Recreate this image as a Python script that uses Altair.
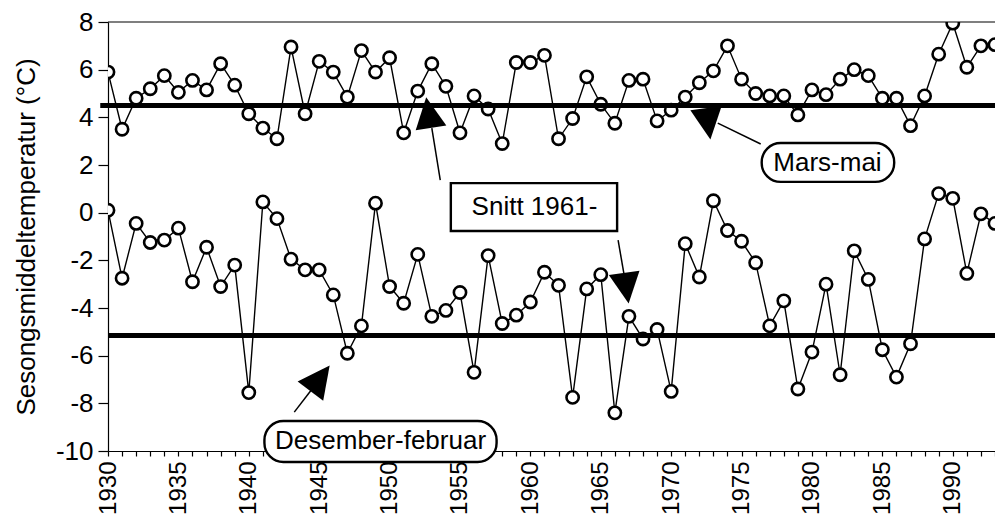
import altair as alt
import pandas as pd

FONT = "Liberation Sans"

# ---- data ----
spring_years = list(range(1930, 1994))
spring_temp = [5.9, 3.5, 4.8, 5.2, 5.75, 5.05, 5.55, 5.15, 6.25, 5.35,
               4.15, 3.55, 3.1, 6.95, 4.15, 6.35, 5.9, 4.85, 6.8, 5.9,
               6.5, 3.35, 5.1, 6.25, 5.3, 3.35, 4.9, 4.35, 2.9, 6.3,
               6.3, 6.6, 3.1, 3.95, 5.7, 4.55, 3.75, 5.55, 5.6, 3.85,
               4.3, 4.85, 5.45, 5.95, 7.0, 5.6, 5.0, 4.9, 4.9, 4.1,
               5.15, 4.95, 5.6, 6.0, 5.75, 4.8, 4.8, 3.65, 4.9, 6.65,
               7.95, 6.1, 7.0, 7.05]

winter_years = list(range(1930, 1995))
winter_temp = [0.1, -2.75, -0.45, -1.25, -1.15, -0.65, -2.9, -1.45, -3.1, -2.2,
               -7.55, 0.45, -0.25, -1.95, -2.4, -2.4, -3.45, -5.9, -4.75, 0.4,
               -3.1, -3.8, -1.75, -4.35, -4.1, -3.35, -6.7, -1.8, -4.65, -4.3,
               -3.75, -2.5, -3.05, -7.75, -3.2, -2.6, -8.4, -4.35, -5.3, -4.9,
               -7.5, -1.3, -2.7, 0.5, -0.75, -1.2, -2.1, -4.75, -3.7, -7.4,
               -5.85, -3.0, -6.8, -1.6, -2.8, -5.75, -6.9, -5.5, -1.1, 0.8,
               0.6, -2.55, -0.05, -0.45, -3.4]

mean_start = [1929.45, 1930.0]
mean_end = [1993.0, 1993.0]
mean_value = [4.5, -5.15]

x_ticks = list(range(1930, 1994))
y_ticks = [-10, -8, -6, -4, -2, 0, 2, 4, 6, 8]
X_DOMAIN = [1930, 1993.0]
Y_DOMAIN = [-10, 8]

# annotations (in data units)
shaft_id = ["a1", "a1", "a2", "a2", "a3", "a3", "a4", "a4"]
shaft_year = [1953.60, 1953.0, 1966.23, 1966.66, 1976.36, 1973.31, 1943.23, 1944.44]
shaft_temp = [1.37, 3.55, -1.15, -2.62, 2.88, 3.76, -8.37, -7.44]

head_year = [1952.77, 1966.82, 1972.63, 1945.06]
head_temp = [4.20, -3.17, 3.73, -6.95]
head_angle = [351, 171.7, 172, 37]
head_size = [961, 961, 1000, 1024]

rbox_x = [1976.43, 1941.11]
rbox_x2 = [1985.84, 1957.60]
rbox_y = [2.92, -8.74]
rbox_y2 = [1.29, -10.46]

sbox_x = [1954.35]
sbox_x2 = [1966.16]
sbox_y = [1.24]
sbox_y2 = [-0.77]

label_text = ["Mars-mai", "Snitt 1961-", "Desember-februar"]
label_year = [1981.10, 1960.29, 1949.36]
label_temp = [2.10, 0.24, -9.60]

# ---- tables ----
df_s = pd.DataFrame({"year": spring_years, "temp": spring_temp})
df_w = pd.DataFrame({"year": winter_years, "temp": winter_temp})
df_mean = pd.DataFrame({"start": mean_start, "end": mean_end, "value": mean_value})
df_shaft = pd.DataFrame({"id": shaft_id, "year": shaft_year, "temp": shaft_temp})
df_head = pd.DataFrame({"year": head_year, "temp": head_temp,
                        "angle": head_angle, "size": head_size})
df_rbox = pd.DataFrame({"x": rbox_x, "x2": rbox_x2, "y": rbox_y, "y2": rbox_y2})
df_sbox = pd.DataFrame({"x": sbox_x, "x2": sbox_x2, "y": sbox_y, "y2": sbox_y2})
df_lab = pd.DataFrame({"text": label_text, "year": label_year, "temp": label_temp})
df_top = pd.DataFrame({"y": [Y_DOMAIN[1]], "a": [X_DOMAIN[0]], "b": [X_DOMAIN[1]]})

xs = alt.Scale(domain=X_DOMAIN, nice=False, zero=False)
ys = alt.Scale(domain=Y_DOMAIN, nice=False, zero=False)

x_axis = alt.Axis(values=x_ticks, format="d",
                  labelExpr="datum.value % 5 == 0 ? datum.value + '' : ''",
                  labelAngle=270, labelFontSize=24, labelPadding=5,
                  labelFont=FONT, tickSize=5, grid=False, title=None,
                  labelFlush=False, labelOverlap=False, labelBound=False,
                  domainWidth=1.2, tickWidth=1.2)
y_axis = alt.Axis(values=y_ticks, labelFontSize=26, labelFont=FONT,
                  labelExpr="datum.value + ''",
                  tickSize=10, labelPadding=5, grid=False,
                  title="Sesongsmiddeltemperatur (°C)", titleFont=FONT,
                  titleFontSize=26, titleFontWeight="normal", titlePadding=16,
                  domainWidth=1.2, tickWidth=1.2)


def X(f):
    return alt.X(f, type="quantitative", scale=xs, axis=x_axis)


def Y(f):
    return alt.Y(f, type="quantitative", scale=ys, axis=y_axis)


line_s = alt.Chart(df_s).mark_line(color="black", strokeWidth=1.4, clip=True).encode(
    x=X("year"), y=Y("temp"))
line_w = alt.Chart(df_w).mark_line(color="black", strokeWidth=1.4, clip=True).encode(
    x=X("year"), y=Y("temp"))

pt_kw = dict(shape="circle", filled=True, fill="white", stroke="black",
             strokeWidth=2.6, size=150, opacity=1, clip=True)
pts_s = alt.Chart(df_s).mark_point(**pt_kw).encode(x=X("year"), y=Y("temp"))
pts_w = alt.Chart(df_w).mark_point(**pt_kw).encode(x=X("year"), y=Y("temp"))

means = alt.Chart(df_mean).mark_rule(color="black", strokeWidth=5).encode(
    x=X("start"), x2="end", y=Y("value"))

top = alt.Chart(df_top).mark_rule(color="black", strokeWidth=1.2).encode(
    x=X("a"), x2="b", y=Y("y"))

shafts = alt.Chart(df_shaft).mark_line(color="black", strokeWidth=1.5).encode(
    x=X("year"), y=Y("temp"), detail="id:N")

heads = alt.Chart(df_head).mark_point(
    shape="M0,-1L1,1L-1,1Z", filled=True, color="black", opacity=1,
    strokeWidth=0).encode(
    x=X("year"), y=Y("temp"),
    angle=alt.Angle("angle:Q", scale=None),
    size=alt.Size("size:Q", scale=None))

rboxes = alt.Chart(df_rbox).mark_rect(fill="white", stroke="black",
                                      strokeWidth=2.4, cornerRadius=19).encode(
    x=X("x"), x2="x2", y=Y("y"), y2="y2")
sboxes = alt.Chart(df_sbox).mark_rect(fill="white", stroke="black",
                                      strokeWidth=2.4).encode(
    x=X("x"), x2="x2", y=Y("y"), y2="y2")

labels = alt.Chart(df_lab).mark_text(font=FONT, fontSize=26, color="black",
                                     align="center", baseline="middle").encode(
    x=X("year"), y=Y("temp"), text="text:N")

chart = alt.layer(line_s, line_w, pts_s, pts_w, means, top, shafts, heads,
                  rboxes, sboxes, labels).properties(
    width=887, height=429,
    autosize=alt.AutoSizeParams(type="none"),
    padding={"left": 100, "top": 14, "right": 0, "bottom": 66},
    background="white",
).configure_view(stroke=None).configure_axis(
    domainColor="black", tickColor="black", labelColor="black", titleColor="black")

chart.save("out.html", embed_options={"renderer": "svg", "actions": False})
